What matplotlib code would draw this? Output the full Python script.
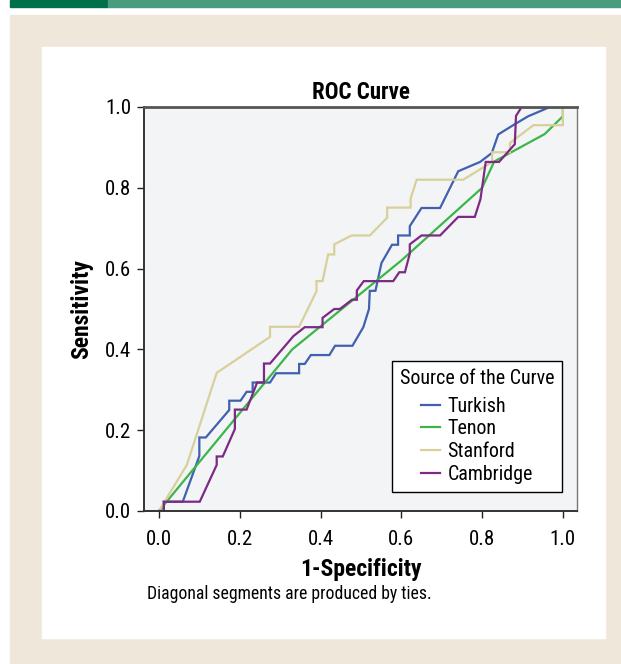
import matplotlib.pyplot as plt
from matplotlib.patches import Rectangle
from matplotlib import font_manager

# ROC curves (1-specificity, sensitivity)
turkish_x = [0, 0.012, 0.012, 0.059, 0.100, 0.100, 0.116, 0.174, 0.174, 0.202,
             0.217, 0.232, 0.232, 0.275, 0.290, 0.347, 0.347, 0.361, 0.376, 0.422,
             0.436, 0.479, 0.506, 0.520, 0.522, 0.536, 0.551, 0.577, 0.592, 0.592,
             0.621, 0.621, 0.650, 0.696, 0.741, 0.795, 0.824, 0.840, 0.877, 0.914,
             0.968, 1.0]
turkish_y = [0, 0, 0.023, 0.023, 0.136, 0.182, 0.182, 0.250, 0.273, 0.273,
             0.295, 0.295, 0.318, 0.318, 0.341, 0.341, 0.364, 0.364, 0.386, 0.386,
             0.409, 0.409, 0.455, 0.500, 0.545, 0.545, 0.614, 0.659, 0.659, 0.682,
             0.682, 0.705, 0.750, 0.750, 0.841, 0.864, 0.886, 0.932, 0.955, 0.977,
             1.0, 1.0]

tenon_x = [0, 0.33, 0.60, 0.80, 0.83, 0.955, 1.0, 1.0]
tenon_y = [0, 0.40, 0.62, 0.80, 0.865, 0.933, 0.977, 1.0]

stanford_x = [0, 0.069, 0.143, 0.275, 0.275, 0.347, 0.390, 0.390, 0.405, 0.419,
              0.434, 0.434, 0.477, 0.522, 0.565, 0.565, 0.623, 0.623, 0.638, 0.753,
              0.825, 0.825, 0.869, 0.869, 0.927, 1.0, 1.0]
stanford_y = [0, 0.114, 0.342, 0.431, 0.456, 0.456, 0.544, 0.569, 0.569, 0.635,
              0.635, 0.660, 0.682, 0.682, 0.726, 0.751, 0.751, 0.773, 0.820, 0.820,
              0.864, 0.888, 0.888, 0.911, 0.955, 0.955, 1.0]

cambridge_x = [0, 0.012, 0.012, 0.101, 0.143, 0.143, 0.158, 0.188, 0.188, 0.217,
               0.243, 0.260, 0.260, 0.275, 0.333, 0.361, 0.405, 0.405, 0.434, 0.448,
               0.478, 0.490, 0.490, 0.507, 0.580, 0.595, 0.609, 0.621, 0.621, 0.650,
               0.696, 0.741, 0.782, 0.796, 0.809, 0.842, 0.881, 0.884, 0.898, 1.0]
cambridge_y = [0, 0, 0.023, 0.023, 0.114, 0.135, 0.135, 0.203, 0.251, 0.251,
               0.318, 0.318, 0.365, 0.365, 0.433, 0.455, 0.455, 0.478, 0.500, 0.500,
               0.523, 0.523, 0.546, 0.569, 0.569, 0.591, 0.591, 0.637, 0.660, 0.682,
               0.682, 0.728, 0.728, 0.772, 0.864, 0.864, 0.908, 0.978, 1.0, 1.0]

series = [
    ("Turkish", turkish_x, turkish_y, "#4060b0"),
    ("Tenon", tenon_x, tenon_y, "#3cb54a"),
    ("Stanford", stanford_x, stanford_y, "#d8d09a"),
    ("Cambridge", cambridge_x, cambridge_y, "#7c2a84"),
]
ticks = [0.0, 0.2, 0.4, 0.6, 0.8, 1.0]

# a condensed grotesque with a real bold face, closest to the original's type
bold_names = {f.name for f in font_manager.fontManager.ttflist if f.weight in (700, "bold")}
candidates = ["Liberation Sans Narrow", "Nimbus Sans Narrow", "Roboto Condensed",
              "Arial Narrow", "Barlow Semi Condensed", "Liberation Sans"]
narrow = next(n for n in candidates if n in bold_names)
plt.rcParams["font.family"] = [narrow, "DejaVu Sans"]

W, H = 621, 664
fig = plt.figure(figsize=(W / 100, H / 100), dpi=100)
fig.patch.set_facecolor("white")


def px_rect(x0, y0, x1, y1, color):
    fig.patches.append(Rectangle((x0 / W, 1 - y1 / H), (x1 - x0) / W, (y1 - y0) / H,
                                 transform=fig.transFigure, color=color, zorder=-5))


px_rect(10, 0, 108, 7, "#00704a")
px_rect(108, 0, 621, 7, "#4b9b7f")
px_rect(10, 15, 621, 664, "#efe8da")
px_rect(42, 47, 605, 638, "white")

ax = fig.add_axes((144 / W, 1 - 511 / H, 433 / W, 404 / H))
ax.set_zorder(2)
ax.set_facecolor("#f3f4f6")

for name, xs, ys, color in series:
    ax.plot(xs, ys, color=color, lw=1.6, label=name, solid_joinstyle="miter")

ax.set_xlim(-0.037, 1.035)
ax.set_ylim(0, 1)
ax.set_xticks(ticks)
ax.set_yticks(ticks)
ax.set_xticklabels([f"{t:.1f}" for t in ticks])
ax.set_yticklabels([f"{t:.1f}" for t in ticks])
ax.tick_params(direction="out", length=5, width=1, labelsize=15, color="#222222", pad=4)
ax.tick_params(axis="x", pad=9)

for side in ("left", "bottom"):
    ax.spines[side].set_color("#333333")
    ax.spines[side].set_linewidth(1.4)
ax.spines["top"].set_color("#555555")
ax.spines["top"].set_linewidth(2)
ax.spines["right"].set_color("#777777")
ax.spines["right"].set_linewidth(1)

ax.set_title("ROC Curve", fontsize=16.5, fontweight="bold", pad=6)
ax.set_xlabel("1-Specificity", fontsize=17, fontweight="bold", labelpad=6)
ax.set_ylabel("Sensitivity", fontsize=17, fontweight="bold", labelpad=9)

leg_fs = 14.4
leg = ax.legend(title="Source of the Curve", loc="lower right",
                bbox_to_anchor=(0.9654, 0.047), borderaxespad=0,
                fontsize=leg_fs, title_fontsize=leg_fs,
                frameon=True, fancybox=False, edgecolor="black", facecolor="white",
                framealpha=1, handlelength=0.95, handletextpad=0.4, labelspacing=0.19,
                borderpad=0.4)
leg.get_frame().set_linewidth(1)
leg._legend_box.align = "center"
leg._legend_box.sep = 6.3

fig.text(147 / W, 1 - 594 / H, "Diagonal segments are produced by ties.",
         fontsize=12.7, va="center", ha="left")

fig.savefig("out.png", dpi=100)
